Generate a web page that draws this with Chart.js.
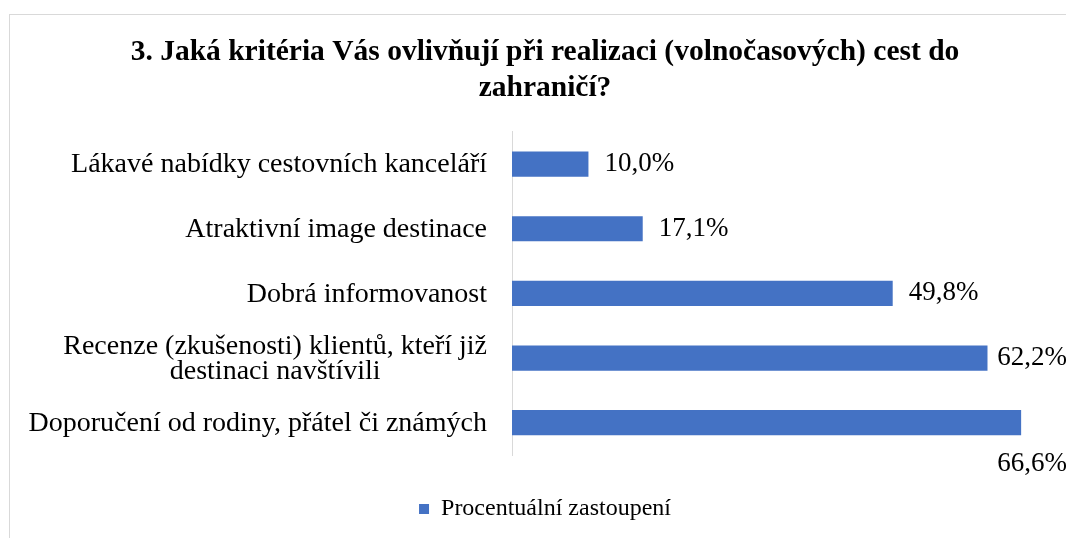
<!DOCTYPE html>
<html>
<head>
<meta charset="utf-8">
<script src="https://cdn.jsdelivr.net/npm/chart.js@4"></script>
<style>
    html, body { margin: 0; padding: 0; background: #fff; overflow: hidden; }
    #frame {
        position: absolute;
        left: 9px;
        top: 14px;
        border: 1px solid #d9d9d9;
        background: #fff;
    }
    #chart { display: block; }
</style>
</head>
<body>
<div id="frame">
    <canvas id="chart" width="1070" height="540"></canvas>
</div>
<script>
const titleLines = [
    "3. Jaká kritéria Vás ovlivňují při realizaci (volnočasových) cest do",
    "zahraničí?"
];
const categories = [
    ["Lákavé nabídky cestovních kanceláří"],
    ["Atraktivní image destinace"],
    ["Dobrá informovanost"],
    ["Recenze (zkušenosti) klientů, kteří již", "destinaci navštívili"],
    ["Doporučení od rodiny, přátel či známých"]
];
const seriesName = "Procentuální zastoupení";
const values = [10.0, 17.1, 49.8, 62.2, 66.6];

const serif = "'Liberation Serif', 'Times New Roman', serif";
const barColour = "#4472C4";

const fmtPct = function(v) {
    return v.toFixed(1).replace(".", ",") + "%";
};

// category labels: block right aligned to the axis, lines centred inside it
const categoryLabels = {
    id: "categoryLabels",
    afterDraw(chart) {
        const ctx = chart.ctx;
        const y = chart.scales.y;
        const right = chart.chartArea.left - 25;
        ctx.save();
        ctx.font = "28px " + serif;
        ctx.fillStyle = "#000";
        ctx.textAlign = "center";
        ctx.textBaseline = "middle";
        categories.forEach((lines, i) => {
            const py = y.getPixelForValue(i) + 1;
            const w = Math.max(...lines.map((l) => ctx.measureText(l).width));
            const cx = right - w / 2;
            const lh = 25.5;
            lines.forEach((line, j) => {
                ctx.fillText(line, cx, py + (j - (lines.length - 1) / 2) * lh);
            });
        });
        ctx.restore();
    }
};

// value labels: outside end, pushed back / below when out of room
const valueLabels = {
    id: "valueLabels",
    afterDatasetsDraw(chart) {
        const ctx = chart.ctx;
        const meta = chart.getDatasetMeta(0);
        const limit = chart.width - 13;
        ctx.save();
        ctx.font = "27px " + serif;
        ctx.fillStyle = "#000";
        ctx.textAlign = "left";
        ctx.textBaseline = "middle";
        meta.data.forEach((bar, i) => {
            const text = fmtPct(values[i]);
            const w = ctx.measureText(text).width;
            let x = bar.x + 16;
            let y = bar.y;
            if (x + w > limit) {
                x = limit - w;
                if (x < bar.x) {
                    y = bar.y + bar.height / 2 + 29;
                }
            }
            ctx.fillText(text, x, y);
        });
        ctx.restore();
    }
};

const chart = new Chart(document.getElementById("chart"), {
    type: "bar",
    data: {
        labels: categories,
        datasets: [{
            label: seriesName,
            data: values,
            backgroundColor: barColour,
            borderWidth: 0,
            categoryPercentage: 1,
            barPercentage: 0.39
        }]
    },
    options: {
        indexAxis: "y",
        responsive: false,
        animation: false,
        layout: { padding: { bottom: 24 } },
        scales: {
            x: {
                display: false,
                min: 0,
                max: 74.3
            },
            y: {
                grid: { display: false },
                border: { display: true, color: "#d9d9d9", width: 1 },
                ticks: { display: false },
                afterFit(scale) {
                    scale.width = 502;
                }
            }
        },
        plugins: {
            title: {
                display: true,
                text: titleLines,
                color: "#000",
                font: { family: serif, size: 29.5, weight: "bold", lineHeight: 1.2 },
                padding: { top: 20, bottom: 26 }
            },
            legend: {
                position: "bottom",
                labels: {
                    color: "#000",
                    font: { family: serif, size: 24 },
                    boxWidth: 10,
                    boxHeight: 10,
                    padding: 42
                }
            },
            tooltip: { enabled: false }
        }
    },
    plugins: [categoryLabels, valueLabels]
});
</script>
</body>
</html>
